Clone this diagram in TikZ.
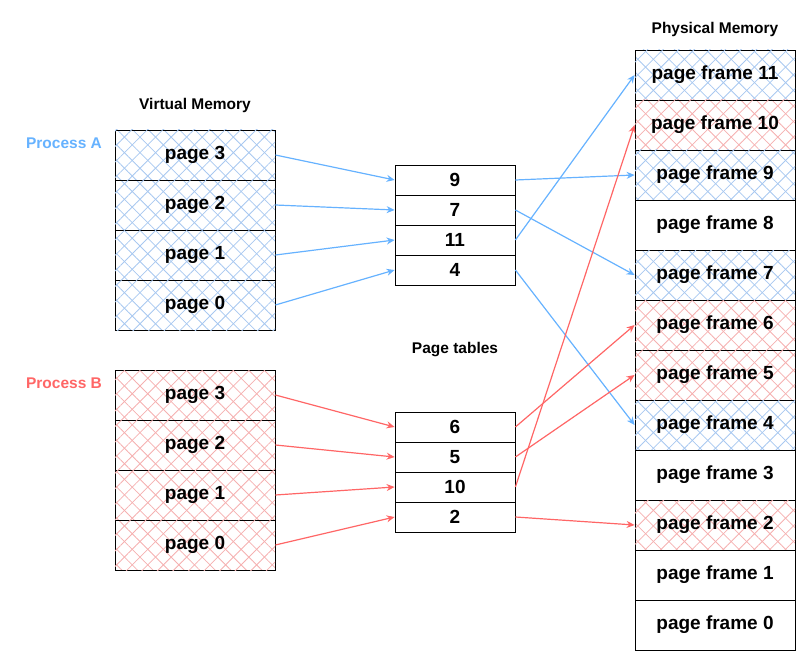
\documentclass[tikz,border=0pt]{standalone}
\usepackage{fontspec}
\setmainfont{Liberation Sans}
\usetikzlibrary{patterns.meta,arrows.meta}
\definecolor{ab}{HTML}{66B2FF}
\definecolor{ar}{HTML}{FF6666}
\definecolor{hb}{HTML}{A8C8F0}
\definecolor{hr}{HTML}{F5B0B0}
\tikzset{
 box/.style={draw,line width=0.8pt,minimum width=160pt,minimum height=50pt,inner sep=0,font=\bfseries\fontsize{19}{22}\selectfont},
 row/.style={draw,line width=0.8pt,minimum width=120pt,minimum height=30pt,inner sep=0,font=\bfseries\fontsize{19}{22}\selectfont},
 hb/.style={postaction={pattern={Lines[angle=45,distance=11pt,line width=0.8pt]},pattern color=hb},
            preaction={pattern={Lines[angle=-45,distance=11pt,line width=0.8pt]},pattern color=hb}},
 hr/.style={postaction={pattern={Lines[angle=45,distance=11pt,line width=0.8pt]},pattern color=hr},
            preaction={pattern={Lines[angle=-45,distance=11pt,line width=0.8pt]},pattern color=hr}},
 lbl/.style={font=\bfseries\fontsize{15.5}{18}\selectfont},
 ba/.style={draw=ab,line width=1.2pt,-{Stealth[length=8pt,width=7pt]}},
 ra/.style={draw=ar,line width=1.2pt,-{Stealth[length=8pt,width=7pt]}},
}
\begin{document}
\begin{tikzpicture}[x=1pt,y=-1pt]
\useasboundingbox (0,0) rectangle (812,666);
\node[lbl] (vm) at (195,105) {Virtual Memory};
\node[lbl,text=ab] (pa) at (64,143) {Process A};
\node[lbl,text=ar] (pb) at (64,383) {Process B};
\node[lbl] (pt) at (455,350) {Page tables};
\node[lbl] (pm) at (715,29) {Physical Memory};
% process A
\node[box,hb] (a3) at (195,155) {page 3};
\node[box,hb] (a2) at (195,205) {page 2};
\node[box,hb] (a1) at (195,255) {page 1};
\node[box,hb] (a0) at (195,305) {page 0};
% process B
\node[box,hr] (b3) at (195,395) {page 3};
\node[box,hr] (b2) at (195,445) {page 2};
\node[box,hr] (b1) at (195,495) {page 1};
\node[box,hr] (b0) at (195,545) {page 0};
% tables
\node[row] (t9) at (455,180) {9};
\node[row] (t7) at (455,210) {7};
\node[row] (t11) at (455,240) {11};
\node[row] (t4) at (455,270) {4};
\node[row] (t6) at (455,427) {6};
\node[row] (t5) at (455,457) {5};
\node[row] (t10) at (455,487) {10};
\node[row] (t2) at (455,517) {2};
% frames
\node[box,hb] (f11) at (715,75) {page frame 11};
\node[box,hr] (f10) at (715,125) {page frame 10};
\node[box,hb] (f9) at (715,175) {page frame 9};
\node[box] (f8) at (715,225) {page frame 8};
\node[box,hb] (f7) at (715,275) {page frame 7};
\node[box,hr] (f6) at (715,325) {page frame 6};
\node[box,hr] (f5) at (715,375) {page frame 5};
\node[box,hb] (f4) at (715,425) {page frame 4};
\node[box] (f3) at (715,475) {page frame 3};
\node[box,hr] (f2) at (715,525) {page frame 2};
\node[box] (f1) at (715,575) {page frame 1};
\node[box] (f0) at (715,625) {page frame 0};
% arrows A
\draw[ba] (a3.east) -- (t9.west);
\draw[ba] (a2.east) -- (t7.west);
\draw[ba] (a1.east) -- (t11.west);
\draw[ba] (a0.east) -- (t4.west);
\draw[ba] (t9.east) -- (f9.west);
\draw[ba] (t7.east) -- (f7.west);
\draw[ba] (t11.east) -- (f11.west);
\draw[ba] (t4.east) -- (f4.west);
% arrows B
\draw[ra] (b3.east) -- (t6.west);
\draw[ra] (b2.east) -- (t5.west);
\draw[ra] (b1.east) -- (t10.west);
\draw[ra] (b0.east) -- (t2.west);
\draw[ra] (t6.east) -- (f6.west);
\draw[ra] (t5.east) -- (f5.west);
\draw[ra] (t10.east) -- (f10.west);
\draw[ra] (t2.east) -- (f2.west);
\end{tikzpicture}
\end{document}
